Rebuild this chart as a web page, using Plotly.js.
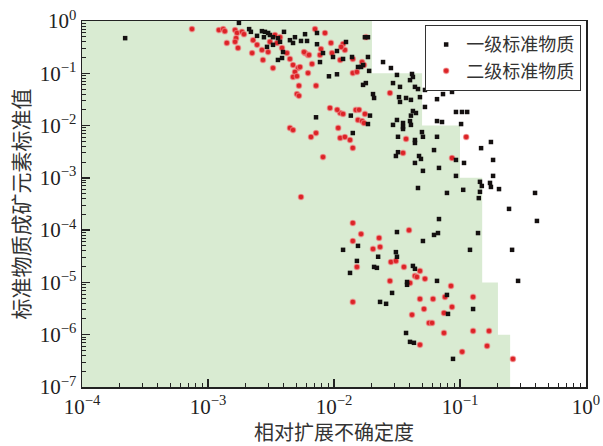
<!DOCTYPE html>
<html>
<head>
<meta charset="utf-8">
<script src="https://cdn.plot.ly/plotly-3.0.1.min.js"></script>
<style>html,body{margin:0;padding:0;background:#fff;}#chart{width:603px;height:446px;}</style>
</head>
<body>
<div id="chart"></div>
<script>
// Reference region (step boundary): x limit for each y band
var stepYTop    = [1, 1e-1, 1e-2, 1e-3, 1e-5, 1e-6];
var stepYBottom = [1e-1, 1e-2, 1e-3, 1e-5, 1e-6, 1e-7];
var stepXLimit  = [0.02, 0.05, 0.1, 0.15, 0.2, 0.25];

var seriesNames = ["一级标准物质", "二级标准物质"];

// 一级标准物质 (black squares)
var blackX = [2.2e-4,1.76e-3,2.12e-3,2.19e-3,2.45e-3,2.68e-3,2.83e-3,3.0e-3,3.1e-3,3.28e-3,
  2.78e-3,2.94e-3,3.28e-3,3.59e-3,4.01e-3,3.73e-3,3.94e-3,3.59e-3,3.87e-3,4.47e-3,
  4.9e-3,4.73e-3,5.47e-3,5.89e-3,6.11e-3,7.33e-3,8.18e-3,7.74e-3,9.12e-3,1.056e-2,
  9.82e-3,1.056e-2,1.18e-2,1.245e-2,1.39e-2,1.55e-2,7.2e-3,1.36e-2,1.41e-2,7.33e-3,
  1.76e-2,1.86e-2,1.86e-2,1.64e-2,1.70e-2,1.90e-2,1.70e-2,1.79e-2,2.04e-2,2.08e-2,
  2.45e-2,2.83e-2,3.16e-2,2.94e-2,3.34e-2,3.28e-2,3.34e-2,3.73e-2,4.08e-2,4.16e-2,
  4.23e-2,4.39e-2,4.01e-2,4.64e-2,5.27e-2,4.81e-2,4.23e-2,4.01e-2,4.47e-2,5.27e-2,
  3.16e-2,3.53e-2,3.53e-2,5.08e-2,4.99e-2,4.39e-2,6.57e-2,7.33e-2,8.64e-2,9.29e-2,
  0.1037,0.114,0.102,6.57e-2,7.2e-2,6.57e-2,6.22e-2,3.22e-2,3.1e-2,4.73e-2,
  4.9e-2,4.39e-2,5.08e-2,6.81e-2,9.29e-2,0.1076,9.29e-2,0.147,0.176,0.183,
  0.144,0.149,0.173,0.176,0.204,0.144,0.141,0.106,7.88e-2,4.64e-2,
  0.394,0.245,4.08e-2,2.94e-2,4.08e-2,3.53e-2,3.22e-2,4.39e-2,1.93e-2,1.86e-2,
  1.55e-2,1.18e-2,1.52e-2,1.34e-2,0.139,0.12,6.81e-2,6.69e-2,6.22e-2,5.08e-2,
  3.16e-2,2.08e-2,2.19e-2,2.24e-2,3.1e-2,3.16e-2,4.23e-2,4.39e-2,3.8e-2,3.8e-2,
  6.57e-2,2.89e-2,2.32e-2,2.59e-2,7.88e-2,8.03e-2,0.127,3.73e-2,4.01e-2,4.31e-2,
  8.8e-2,0.289,0.408,0.259,0.183];
var blackY = [0.47,0.92,0.70,0.62,0.52,0.64,0.62,0.59,0.54,0.49,
  0.49,0.32,0.35,0.47,0.62,0.40,0.255,0.18,0.196,0.43,
  0.49,0.38,0.415,0.56,0.415,0.36,0.244,0.164,0.0876,0.0957,
  0.205,0.267,0.188,0.397,0.205,0.132,0.0144,0.0155,0.0072,0.59,
  0.49,0.49,0.205,0.132,0.144,0.111,0.060,0.065,0.040,0.0337,
  0.164,0.126,0.093,0.065,0.055,0.035,0.0283,0.0337,0.031,0.097,
  0.085,0.055,0.074,0.050,0.048,0.035,0.019,0.0122,0.0174,0.0227,
  0.0128,0.0112,0.0094,0.0061,0.0075,0.0053,0.032,0.040,0.044,0.0182,
  0.0182,0.0182,0.0107,0.0122,0.0117,0.0061,0.0034,0.0031,0.00262,0.00262,
  0.0023,0.00193,0.00136,0.00155,0.0022,0.00193,0.00109,0.0037,0.00485,0.0022,
  8.4e-4,7.0e-4,8.0e-4,6.7e-4,6.1e-4,5.4e-4,4.1e-4,5.9e-4,5.15e-4,6.4e-4,
  5.15e-4,2.55e-4,0.0155,0.0103,0.0103,0.0086,0.0061,0.00465,0.0155,0.0107,
  5.0e-5,4.2e-5,2.58e-5,1.52e-5,8.8e-5,4.2e-5,1.63e-4,8.8e-5,8.1e-5,6.2e-5,
  9.2e-5,1.98e-5,1.9e-5,3.1e-5,3.8e-5,3.1e-5,2.07e-5,1.82e-5,1.02e-5,9.0e-6,
  1.07e-5,6.3e-6,4.24e-6,3.9e-6,5.77e-6,2.5e-6,3.1e-6,1.08e-6,7.3e-7,7.0e-7,
  3.45e-7,1.07e-5,1.5e-4,4.2e-5,1.09e-3];

// 二级标准物质 (red circles)
var redX = [7.46e-4,1.22e-3,1.32e-3,1.36e-3,1.64e-3,1.70e-3,1.86e-3,1.93e-3,1.67e-3,1.64e-3,
  1.41e-3,1.73e-3,2.28e-3,2.24e-3,2.45e-3,2.68e-3,2.73e-3,3.0e-3,3.1e-3,3.4e-3,
  3.53e-3,3.73e-3,3.87e-3,3.28e-3,4.23e-3,4.47e-3,4.73e-3,5.18e-3,4.9e-3,5.37e-3,
  4.73e-3,5.08e-3,6.22e-3,5.89e-3,6.22e-3,7.07e-3,7.2e-3,5.27e-3,5.08e-3,5.27e-3,
  7.88e-3,9.46e-3,9.64e-3,1.12e-2,1.22e-2,1.41e-2,1.52e-2,4.47e-3,4.73e-3,6.57e-3,
  7.2e-3,8.18e-3,9.29e-3,1.12e-2,1.18e-2,1.08e-2,1.12e-2,1.22e-2,1.34e-2,1.41e-2,
  1.49e-2,1.55e-2,5.47e-3,5.78e-3,6.33e-3,7.74e-3,8.48e-3,6.69e-3,1.41e-2,1.67e-2,
  1.73e-2,1.18e-2,1.14e-2,1.79e-2,1.06e-2,1.58e-2,1.76e-2,1.67e-2,1.73e-2,2.78e-2,
  3.73e-2,3.53e-2,8.64e-2,0.112,1.41e-2,1.41e-2,1.52e-2,1.41e-2,1.64e-2,2.28e-2,
  2.32e-2,2.04e-2,3.94e-2,2.83e-2,3.1e-2,3.59e-2,4.81e-2,4.39e-2,4.55e-2,5.27e-2,
  2.78e-2,4.01e-2,8.48e-2,4.81e-2,6.11e-2,7.6e-2,8.64e-2,5.18e-2,4.16e-2,7.46e-2,
  5.68e-2,6.0e-2,7.46e-2,4.81e-2,0.104,0.127,0.127,0.17,0.164,0.263];
var redY = [0.70,0.67,0.70,0.64,0.67,0.59,0.62,0.56,0.47,0.40,
  0.38,0.305,0.43,0.244,0.35,0.28,0.18,0.255,0.40,0.54,
  0.38,0.49,0.305,0.126,0.244,0.188,0.144,0.126,0.106,0.132,
  0.085,0.088,0.224,0.244,0.101,0.70,0.058,0.058,0.040,0.037,
  0.29,0.38,0.244,0.18,0.28,0.101,0.106,0.0090,0.0082,0.00605,
  0.0072,0.0025,0.0217,0.0174,0.0167,0.0090,0.0058,0.00605,0.0053,0.00373,
  0.0199,0.0128,4.3e-4,0.255,0.224,0.224,0.59,0.151,0.188,0.164,
  0.144,0.363,0.318,0.49,0.020,0.020,0.0167,0.0122,0.0112,0.042,
  0.00555,0.0030,0.0024,0.00605,1.37e-4,6.2e-5,1.98e-5,4.24e-6,8.4e-5,7.1e-5,
  4.77e-5,4.37e-5,1.0e-4,2.46e-5,2.58e-5,1.98e-5,1.66e-5,1.33e-5,1.27e-5,1.17e-5,
  1.07e-5,9.8e-6,8.57e-6,4.83e-6,4.83e-6,5.28e-6,3.4e-6,3.1e-6,2.4e-6,2.6e-6,
  1.68e-6,1.68e-6,1.08e-6,6.4e-7,4.7e-7,5.28e-6,1.18e-6,1.18e-6,6.1e-7,3.45e-7];

var xTickVals = [1e-4, 1e-3, 1e-2, 1e-1, 1];
var yTickVals = [1e-7, 1e-6, 1e-5, 1e-4, 1e-3, 1e-2, 1e-1, 1];
function powLabel(v) {
  var e = Math.round(Math.log10(v));
  return '10<sup>' + (e < 0 ? '\u2212' + (-e) : e) + '</sup>';
}
var xTickText = xTickVals.map(powLabel);
var yTickText = yTickVals.map(powLabel);

// Build the step polygon from the band arrays
var regX = [1e-4], regY = [stepYTop[0]];
for (var i = 0; i < stepXLimit.length; i++) {
  regX.push(stepXLimit[i]); regY.push(stepYTop[i]);
  regX.push(stepXLimit[i]); regY.push(stepYBottom[i]);
}
regX.push(1e-4); regY.push(stepYBottom[stepYBottom.length - 1]);

var region = {
  x: regX, y: regY, type: 'scatter', mode: 'lines', fill: 'toself',
  fillcolor: '#d9ebd2', line: {width: 0, color: 'rgba(0,0,0,0)'},
  hoverinfo: 'skip', showlegend: false
};
var red = {
  x: redX, y: redY, type: 'scatter', mode: 'markers', name: seriesNames[1],
  marker: {symbol: 'circle', size: 5.5, color: '#dc2327', line: {width: 1.2, color: 'rgba(240,140,140,0.6)'}}
};
var black = {
  x: blackX, y: blackY, type: 'scatter', mode: 'markers', name: seriesNames[0],
  marker: {symbol: 'square', size: 4.5, color: '#141010', line: {width: 0}}
};

var tickFont = {family: 'Liberation Serif, Times New Roman, serif', size: 21, color: '#222'};
var cjk = 'Noto Sans CJK SC, sans-serif';

var layout = {
  width: 603, height: 446,
  margin: {l: 82, r: 17, t: 21, b: 59},
  paper_bgcolor: '#fff', plot_bgcolor: '#fff',
  showlegend: true,
  legend: {
    x: 0.99, xanchor: 'right', y: 0.989, yanchor: 'top',
    bgcolor: '#fff', bordercolor: '#333', borderwidth: 1.2,
    font: {family: cjk, size: 18, color: '#333'},
    traceorder: 'reversed', itemwidth: 30, tracegroupgap: 0
  },
  xaxis: {
    type: 'log', range: [-4, 0], tickvals: xTickVals, ticktext: xTickText,
    ticks: 'inside', ticklen: 8, tickwidth: 1.5, tickcolor: '#222',
    showline: true, linecolor: '#222', linewidth: 1.5, mirror: true,
    showgrid: false, zeroline: false, tickfont: tickFont,
    minor: {dtick: 'D1', ticks: 'inside', ticklen: 4, tickwidth: 1, tickcolor: '#222', showgrid: false},
    title: {text: '相对扩展不确定度', font: {family: cjk, size: 20, color: '#333'}, standoff: 4}
  },
  yaxis: {
    type: 'log', range: [-7, 0], tickvals: yTickVals, ticktext: yTickText,
    ticks: 'inside', ticklen: 8, tickwidth: 1.5, tickcolor: '#222',
    showline: true, linecolor: '#222', linewidth: 1.5, mirror: true,
    showgrid: false, zeroline: false, tickfont: tickFont,
    minor: {dtick: 'D1', ticks: 'inside', ticklen: 4, tickwidth: 1, tickcolor: '#222', showgrid: false},
    title: {text: '标准物质成矿元素标准值', font: {family: cjk, size: 21, color: '#333'}, standoff: 4}
  }
};

Plotly.newPlot('chart', [region, red, black], layout, {displayModeBar: false, staticPlot: true});
</script>
</body>
</html>
